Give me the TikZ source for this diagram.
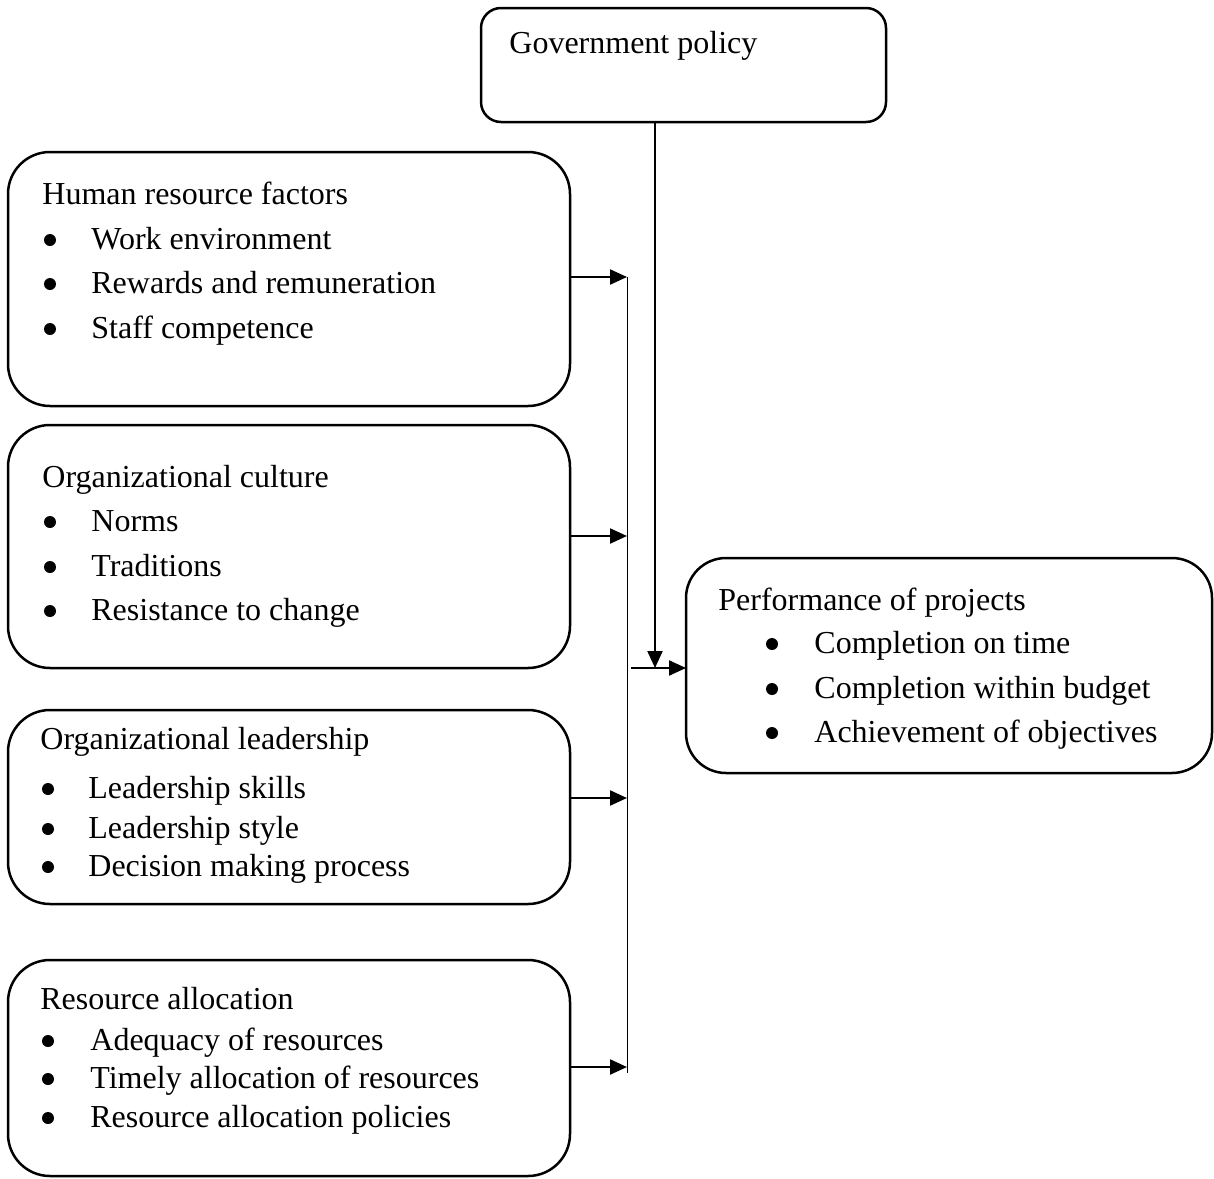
\documentclass[tikz,border=0pt]{standalone}
\usepackage{fontspec}
\setmainfont{Liberation Serif}
\usetikzlibrary{arrows.meta}
\begin{document}
\begin{tikzpicture}[x=0.5pt,y=-0.5pt,
  box/.style={draw,line width=1.25pt,inner sep=0pt,outer sep=0pt,anchor=north west},
  txt/.style={anchor=base west,inner sep=0pt,font=\fontsize{16}{19}\selectfont},
  bul/.style={circle,fill,inner sep=0pt,minimum size=6pt},
  arr/.style={line width=1.1pt,-{Triangle[length=8.5pt,width=7.5pt]}},
  busline/.style={line width=0.5pt}]
\useasboundingbox (0,0) rectangle (1214,1178);
% boxes
\node[box,rounded corners=10pt,minimum width=202.5pt,minimum height=57pt] (gov) at (481,8) {};
\node[box,rounded corners=21pt,minimum width=281pt,minimum height=127pt] (hr) at (8,152) {};
\node[box,rounded corners=21pt,minimum width=281pt,minimum height=121.5pt] (oc) at (8,425) {};
\node[box,rounded corners=21pt,minimum width=281pt,minimum height=97pt] (ol) at (8,710) {};
\node[box,rounded corners=21pt,minimum width=281pt,minimum height=108pt] (ra) at (8,960) {};
\node[box,rounded corners=20pt,minimum width=263pt,minimum height=107.5pt] (pp) at (686,558) {};
% texts
\node[txt] (govt) at (509,54) {Government policy};
\node[txt] (hrt) at (42,204) {Human resource factors};
\node[bul] (hrb1) at (50,240) {}; \node[txt] (hr1) at (91,249) {Work environment};
\node[bul] (hrb2) at (50,284) {}; \node[txt] (hr2) at (91,293) {Rewards and remuneration};
\node[bul] (hrb3) at (50,329) {}; \node[txt] (hr3) at (91,338) {Staff competence};
\node[txt] (oct) at (42,487) {Organizational culture};
\node[bul] (ocb1) at (50,522) {}; \node[txt] (oc1) at (91,531) {Norms};
\node[bul] (ocb2) at (50,567) {}; \node[txt] (oc2) at (91,576) {Traditions};
\node[bul] (ocb3) at (50,611) {}; \node[txt] (oc3) at (91,620) {Resistance to change};
\node[txt] (olt) at (40,749) {Organizational leadership};
\node[bul] (olb1) at (48,789) {}; \node[txt] (ol1) at (88,798) {Leadership skills};
\node[bul] (olb2) at (48,829) {}; \node[txt] (ol2) at (88,838) {Leadership style};
\node[bul] (olb3) at (48,867) {}; \node[txt] (ol3) at (88,876) {Decision making process};
\node[txt] (rat) at (40,1009) {Resource allocation};
\node[bul] (rab1) at (48,1041) {}; \node[txt] (ra1) at (90,1050) {Adequacy of resources};
\node[bul] (rab2) at (48,1079) {}; \node[txt] (ra2) at (90,1088) {Timely allocation of resources};
\node[bul] (rab3) at (48,1118) {}; \node[txt] (ra3) at (90,1127) {Resource allocation policies};
\node[txt] (ppt) at (718,610) {Performance of projects};
\node[bul] (ppb1) at (772,644) {}; \node[txt] (pp1) at (814,653) {Completion on time};
\node[bul] (ppb2) at (772,689) {}; \node[txt] (pp2) at (814,698) {Completion within budget};
\node[bul] (ppb3) at (772,733) {}; \node[txt] (pp3) at (814,742) {Achievement of objectives};
% connectors
\coordinate (b1) at (627,277);
\coordinate (b2) at (627,536);
\coordinate (b3) at (627,798);
\coordinate (b4) at (627,1067);
\coordinate (bend) at (627,1073);
\coordinate (g) at (655,668);
\coordinate (j) at (631,668);
\draw[busline] (b1) -- (bend);
\draw[arr] (hr.east |- b1) -- (b1);
\draw[arr] (oc.east |- b2) -- (b2);
\draw[arr] (ol.east |- b3) -- (b3);
\draw[arr] (ra.east |- b4) -- (b4);
\draw[arr] (gov.south -| g) -- (g);
\draw[arr] (j) -- (pp.west |- j);
\end{tikzpicture}
\end{document}
